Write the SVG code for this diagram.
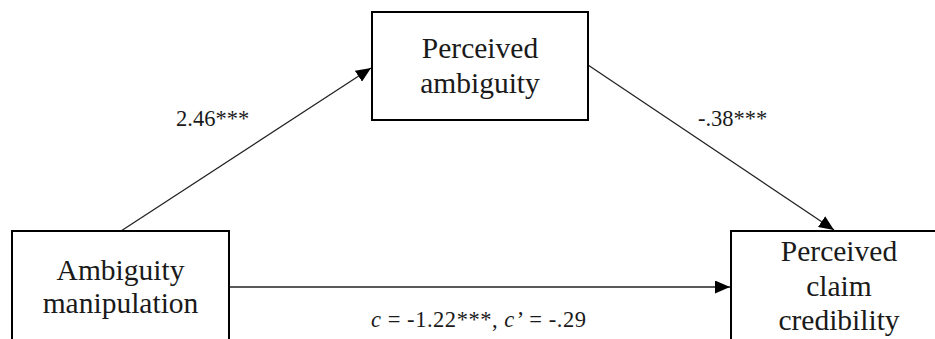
<svg xmlns="http://www.w3.org/2000/svg" width="935" height="339" viewBox="0 0 935 339">
<style>
.box{fill:#fff;stroke:#000;stroke-width:2}
text{font-family:"Liberation Serif",serif;fill:#1a1a1a}
.lbl{font-size:29.5px;text-anchor:middle}
.coef{font-size:22.5px}
.edge{stroke:#222;stroke-width:1.3;fill:none}
</style>
<defs>
<marker id="ah" viewBox="0 0 15 13" refX="15" refY="6.5" markerWidth="15" markerHeight="13" markerUnits="userSpaceOnUse" orient="auto">
<path d="M0,0 L15,6.5 L0,13 Z" fill="#000"/>
</marker>
</defs>
<rect width="935" height="339" fill="#fff"/>
<g id="connectors">
<line class="edge" x1="121" y1="231" x2="371" y2="68" marker-end="url(#ah)"/>
<line class="edge" x1="588" y1="65" x2="834" y2="230" marker-end="url(#ah)"/>
<line class="edge" x1="229" y1="287" x2="730" y2="287" marker-end="url(#ah)"/>
</g>
<g id="node-manipulation">
<rect class="box" x="12" y="231" width="217" height="120"/>
<text class="lbl" x="120.5" y="280">Ambiguity</text>
<text class="lbl" x="120.5" y="313">manipulation</text>
</g>
<g id="node-ambiguity">
<rect class="box" x="372" y="12" width="216" height="108"/>
<text class="lbl" x="480" y="58">Perceived</text>
<text class="lbl" x="480" y="93">ambiguity</text>
</g>
<g id="node-credibility">
<rect class="box" x="731" y="231" width="216" height="120"/>
<text class="lbl" x="839" y="261">Perceived</text>
<text class="lbl" x="839" y="296">claim</text>
<text class="lbl" x="839" y="330">credibility</text>
</g>
<g id="labels">
<text class="coef" x="176" y="126">2.46***</text>
<text class="coef" x="698" y="126">-.38***</text>
<text class="coef" x="371" y="327" font-size="23" textLength="215" lengthAdjust="spacing"><tspan font-style="italic">c</tspan> = -1.22***, <tspan font-style="italic">c</tspan><tspan dx="2">’</tspan> = -.29</text>
</g>
</svg>
